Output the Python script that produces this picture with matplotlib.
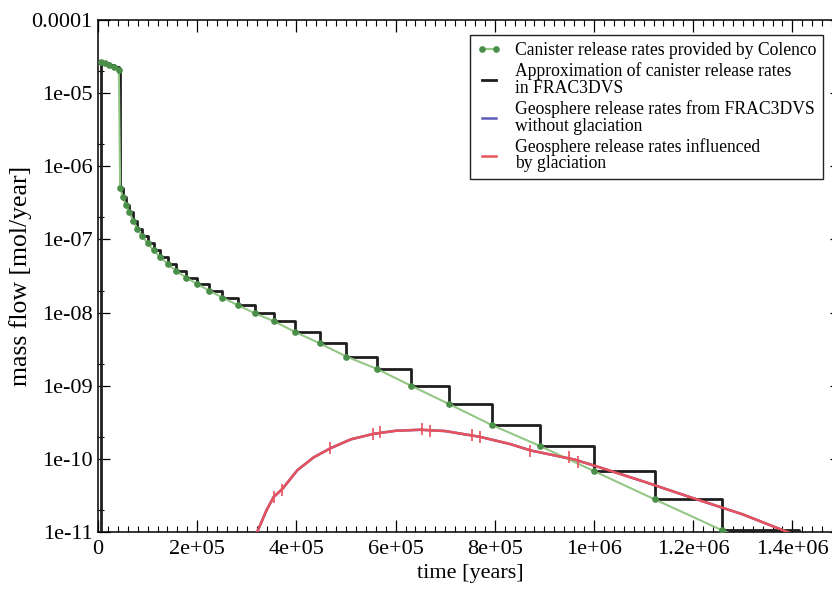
import matplotlib
matplotlib.use("Agg")
import matplotlib.pyplot as plt
from matplotlib.ticker import FixedLocator, MultipleLocator, LogLocator, NullFormatter

plt.rcParams['font.family'] = ['Liberation Serif', 'DejaVu Serif']

# canister release rates (Colenco)
colenco_t = [6e3, 1.4e4, 2.3e4, 3.3e4, 4.2e4,
             4.47e4, 5.0e4, 5.6e4, 6.3e4, 7.1e4, 7.9e4, 8.9e4, 1.0e5,
             1.12e5, 1.26e5, 1.41e5, 1.58e5, 1.78e5, 2.0e5, 2.24e5, 2.51e5,
             2.82e5, 3.16e5, 3.55e5, 3.98e5, 4.47e5, 5.01e5, 5.62e5, 6.31e5,
             7.08e5, 7.94e5, 8.91e5, 1.0e6, 1.122e6, 1.259e6, 1.413e6]
colenco_v = [2.65e-5, 2.55e-5, 2.4e-5, 2.25e-5, 2.1e-5,
             5.0e-7, 3.8e-7, 2.95e-7, 2.35e-7, 1.8e-7, 1.4e-7, 1.1e-7, 8.9e-8,
             7.1e-8, 5.7e-8, 4.6e-8, 3.7e-8, 3.0e-8, 2.45e-8, 2.0e-8, 1.6e-8,
             1.26e-8, 9.8e-9, 7.6e-9, 5.4e-9, 3.8e-9, 2.5e-9, 1.7e-9, 1.0e-9,
             5.6e-10, 2.9e-10, 1.5e-10, 6.8e-11, 2.8e-11, 1.05e-11, 4e-12]

# FRAC3DVS step approximation: starts from zero at t = 6e3, then holds each value
approx_start_t = 6e3
approx_start_v = 1e-13

# geosphere release rates (with glaciation), no-glaciation curve lies underneath
geo_t = [3.1e5, 3.21e5, 3.4e5, 3.54e5, 3.72e5, 4.02e5, 4.35e5, 4.69e5, 5.1e5,
         5.56e5, 6.0e5, 6.5e5, 7.0e5, 7.7e5, 8.3e5, 8.73e5, 9.6e5, 1.0e6,
         1.1e6, 1.2e6, 1.3e6, 1.39e6, 1.45e6]
geo_v = [7e-12, 1.0e-11, 2.0e-11, 3.0e-11, 3.9e-11, 7.0e-11, 1.05e-10, 1.4e-10, 1.85e-10,
         2.2e-10, 2.42e-10, 2.5e-10, 2.4e-10, 2.0e-10, 1.6e-10, 1.3e-10, 9.8e-11, 8.1e-11,
         4.9e-11, 2.9e-11, 1.74e-11, 1.0e-11, 7e-12]
geo_tick_t = [3.55e5, 3.7e5, 4.67e5, 5.54e5, 5.68e5, 6.53e5, 6.69e5, 7.55e5, 7.7e5,
              8.7e5, 9.5e5, 9.67e5]
geo_tick_v = [3.0e-11, 3.8e-11, 1.4e-10, 2.2e-10, 2.3e-10, 2.55e-10, 2.4e-10, 2.15e-10, 2.0e-10,
              1.3e-10, 1.05e-10, 9.0e-11]

x_ticks = [0, 2e5, 4e5, 6e5, 8e5, 1e6, 1.2e6, 1.4e6]
x_labels = ['0', '2e+05', '4e+05', '6e+05', '8e+05', '1e+06', '1.2e+06', '1.4e+06']
y_ticks = [1e-4, 1e-5, 1e-6, 1e-7, 1e-8, 1e-9, 1e-10, 1e-11]
y_labels = ['0.0001', '1e-05', '1e-06', '1e-07', '1e-08', '1e-09', '1e-10', '1e-11']

fig = plt.figure(figsize=(8.32, 5.92), dpi=100)
# right part of the frame is cut off in the original, so the axes run past the edge
ax = fig.add_axes([98 / 832, 60 / 592, 744 / 832, 512 / 592])

ax.plot(geo_t, geo_v, color='#5b5bb8', lw=1.8, zorder=2,
        label='Geosphere release rates from FRAC3DVS\nwithout glaciation')
ax.plot([approx_start_t] + colenco_t, [approx_start_v] + colenco_v,
        drawstyle='steps-post', color='#1e1e1e', lw=2.0, zorder=3,
        label='Approximation of canister release rates\nin FRAC3DVS')
ax.plot(colenco_t, colenco_v, color='#93c785', lw=1.5, marker='o', ms=3.8,
        mfc='#4a8f4a', mec='#4a8f4a', zorder=4,
        label='Canister release rates provided by Colenco')
ax.plot(geo_t, geo_v, color='#e8525c', lw=1.8, zorder=5,
        label='Geosphere release rates influenced\nby glaciation')
ax.plot(geo_tick_t, geo_tick_v, ls='none', marker='|', ms=9, mew=1.2,
        color='#e8525c', zorder=5)

ax.set_yscale('log')
ax.set_xlim(0, 1.5e6)
ax.set_ylim(1e-11, 1e-4)

ax.xaxis.set_major_locator(FixedLocator(x_ticks))
ax.set_xticklabels(x_labels)
ax.xaxis.set_minor_locator(MultipleLocator(2e4))
ax.yaxis.set_major_locator(FixedLocator(y_ticks))
ax.set_yticklabels(y_labels)
ax.yaxis.set_minor_locator(LogLocator(base=10, subs=(2.0,)))
ax.yaxis.set_minor_formatter(NullFormatter())

ax.tick_params(which='both', direction='in', top=True, right=True, labelsize=16)
ax.tick_params(which='major', length=8.5, width=0.9)
ax.tick_params(which='minor', length=4.3, width=0.8)
ax.tick_params(axis='x', pad=6)
ax.tick_params(axis='y', pad=4)
for s in ax.spines.values():
    s.set_linewidth(1.1)

ax.set_xlabel('time [years]', fontsize=16)
ax.set_ylabel('mass flow [mol/year]', fontsize=18.5)
ax.xaxis.set_label_coords(0.5, -0.0625)
ax.yaxis.set_label_coords(-0.0887, 0.5)

h, l = ax.get_legend_handles_labels()
order = [2, 1, 0, 3]
leg = ax.legend([h[i] for i in order], [l[i] for i in order],
                loc='upper right', bbox_to_anchor=(0.9745, 0.9707), borderaxespad=0,
                fontsize=12.7, numpoints=2, handlelength=1.4, handletextpad=0.75,
                labelspacing=0.2, borderpad=0.4, fancybox=False, framealpha=1,
                edgecolor='#222222')
leg.get_frame().set_linewidth(1.0)
for t in leg.get_texts():
    t.set_linespacing(0.95)

fig.savefig('out.png', dpi=100)
